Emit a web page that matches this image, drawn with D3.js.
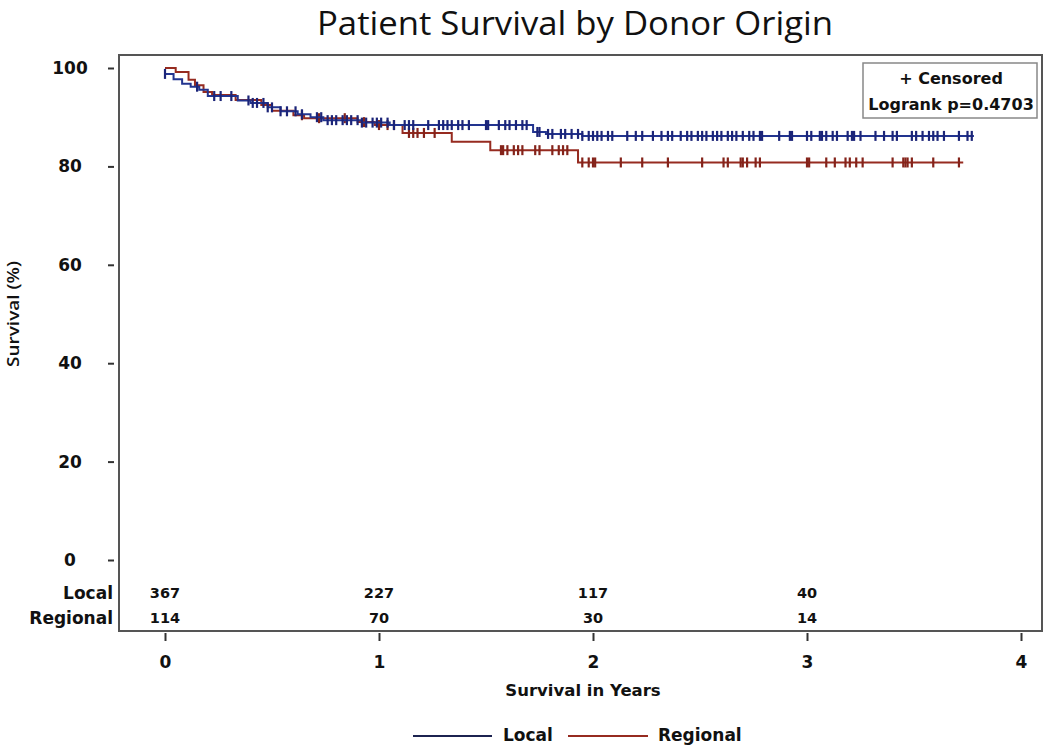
<!DOCTYPE html>
<html>
<head>
<meta charset="utf-8">
<script src="https://cdn.jsdelivr.net/npm/d3@7"></script>
<style>
  html, body { margin: 0; padding: 0; background: #fff; }
  svg { display: block; }
</style>
</head>
<body>
<svg id="chart" width="1050" height="747"></svg>
<script>
// ---------- data ----------
const groups = ["Local", "Regional"];
const localTimes = [0, 0.04, 0.08, 0.12, 0.16, 0.20, 0.34, 0.40, 0.48, 0.54, 0.62, 0.68, 0.74, 0.92, 1.05, 1.72, 1.78, 1.95, 3.78];
const localSurv  = [98.8, 97.7, 96.8, 96.2, 95.6, 94.3, 93.4, 92.9, 92.0, 91.2, 90.6, 90.0, 89.4, 88.9, 88.4, 87.0, 86.6, 86.2, 86.2];
const regionalTimes = [0, 0.05, 0.11, 0.14, 0.18, 0.22, 0.33, 0.45, 0.50, 0.60, 0.65, 0.90, 0.98, 1.11, 1.34, 1.52, 1.93, 3.73];
const regionalSurv  = [100, 99.2, 97.6, 96.5, 95.1, 94.5, 93.5, 92.5, 91.3, 90.4, 89.8, 89.0, 88.4, 86.8, 85.0, 83.3, 80.8, 80.8];
const localCensored = [0.00,0.15,0.23,0.26,0.31,0.39,0.41,0.43,0.46,0.48,0.50,0.54,0.57,0.61,0.64,0.71,0.73,0.76,0.78,0.80,0.83,0.85,0.87,0.90,0.92,0.94,0.97,0.99,1.01,1.04,1.07,1.12,1.14,1.16,1.23,1.28,1.30,1.32,1.34,1.37,1.39,1.42,1.50,1.51,1.56,1.59,1.61,1.64,1.67,1.69,1.74,1.75,1.79,1.81,1.85,1.87,1.90,1.93,1.95,1.98,2.00,2.02,2.04,2.07,2.09,2.16,2.20,2.23,2.28,2.32,2.35,2.37,2.41,2.44,2.46,2.49,2.51,2.53,2.56,2.58,2.60,2.63,2.65,2.67,2.70,2.73,2.75,2.78,2.79,2.87,2.92,2.93,3.00,3.02,3.06,3.07,3.09,3.12,3.14,3.19,3.21,3.22,3.25,3.32,3.36,3.40,3.42,3.49,3.51,3.54,3.57,3.59,3.61,3.64,3.71,3.75,3.77];
const regionalCensored = [0.64,0.72,0.84,0.93,1.00,1.04,1.07,1.14,1.16,1.18,1.21,1.26,1.57,1.58,1.60,1.63,1.65,1.67,1.73,1.75,1.81,1.84,1.86,1.88,1.95,1.98,2.00,2.01,2.13,2.23,2.35,2.51,2.61,2.63,2.69,2.70,2.72,2.76,2.78,3.00,3.01,3.09,3.13,3.18,3.20,3.23,3.26,3.40,3.45,3.46,3.47,3.49,3.59,3.71];
const riskTimes = [0, 1, 2, 3];
const localAtRisk = [367, 227, 117, 40];
const regionalAtRisk = [114, 70, 30, 14];
const xTicks = [0, 1, 2, 3, 4];
const yTicks = [0, 20, 40, 60, 80, 100];
const titleText = "Patient Survival by Donor Origin";
const xTitle = "Survival in Years";
const yTitle = "Survival (%)";
const boxLines = ["+ Censored", "Logrank p=0.4703"];

// ---------- setup ----------
const svg = d3.select("#chart");
const colors = { Local: "#22348f", Regional: "#962b20" };
const censorColors = { Local: "#1b2478", Regional: "#84231a" };
const legendColors = { Local: "#1c2350", Regional: "#962b20" };
const boldFont = "'DejaVu Sans', Verdana, sans-serif";
const lightFont = "'Open Sans', 'Noto Sans', sans-serif";

const x = d3.scaleLinear().domain([0, 4]).range([165, 1021]);
const y = d3.scaleLinear().domain([0, 100]).range([560, 68]);

const frame = { left: 119, right: 1042, top: 55, bottom: 631 };

// title
svg.append("text")
  .attr("x", 575).attr("y", 35)
  .attr("text-anchor", "middle")
  .attr("font-family", lightFont)
  .attr("font-size", 32)
  .attr("textLength", 516)
  .attr("lengthAdjust", "spacingAndGlyphs")
  .attr("fill", "#111")
  .text(titleText);

// frame
svg.append("rect")
  .attr("x", frame.left).attr("y", frame.top)
  .attr("width", frame.right - frame.left)
  .attr("height", frame.bottom - frame.top)
  .attr("fill", "none").attr("stroke", "#555").attr("stroke-width", 2);

// y axis
const yAxis = svg.append("g")
  .attr("transform", "translate(114,0)")
  .call(d3.axisLeft(y).tickValues(yTicks).tickSize(6).tickFormat(d3.format("d")));
yAxis.select(".domain").remove();
yAxis.selectAll(".tick line").attr("stroke", "#333").attr("stroke-width", 2);
yAxis.selectAll(".tick text")
  .attr("x", -44).attr("text-anchor", "middle")
  .attr("font-family", boldFont).attr("font-weight", "bold")
  .attr("font-size", 17).attr("fill", "#111");

// x axis
const xAxis = svg.append("g")
  .attr("transform", `translate(0,${frame.bottom + 2})`)
  .call(d3.axisBottom(x).tickValues(xTicks).tickSize(8).tickFormat(d3.format("d")));
xAxis.select(".domain").remove();
xAxis.selectAll(".tick line").attr("stroke", "#333").attr("stroke-width", 2);
xAxis.selectAll(".tick text")
  .attr("y", 29).attr("dy", "0.35em")
  .attr("font-family", boldFont).attr("font-weight", "bold")
  .attr("font-size", 17).attr("fill", "#111");

// axis titles
svg.append("text")
  .attr("x", 583).attr("y", 690).attr("dy", "0.35em")
  .attr("text-anchor", "middle")
  .attr("font-family", boldFont).attr("font-weight", "bold")
  .attr("font-size", 16.5).attr("fill", "#111")
  .text(xTitle);

svg.append("text")
  .attr("transform", "translate(13,314) rotate(-90)")
  .attr("text-anchor", "middle").attr("dy", "0.35em")
  .attr("font-family", lightFont).attr("font-weight", 600)
  .attr("font-size", 17)
  .attr("textLength", 106).attr("lengthAdjust", "spacingAndGlyphs")
  .attr("fill", "#111")
  .text(yTitle);

// curves
const series = [
  { name: "Regional", times: regionalTimes, surv: regionalSurv, cens: regionalCensored },
  { name: "Local", times: localTimes, surv: localSurv, cens: localCensored }
];

const line = d3.line()
  .x(d => x(d[0])).y(d => y(d[1]))
  .curve(d3.curveStepAfter);

function survAt(s, t) {
  let v = s.surv[0];
  for (let i = 0; i < s.times.length; i++) {
    if (s.times[i] <= t) v = s.surv[i];
  }
  return v;
}

series.forEach(s => {
  const pts = s.times.map((t, i) => [t, s.surv[i]]);
  svg.append("path")
    .attr("d", line(pts))
    .attr("fill", "none")
    .attr("stroke", colors[s.name])
    .attr("stroke-width", 2);
  svg.append("g").selectAll("line")
    .data(s.cens)
    .join("line")
    .attr("x1", d => x(d)).attr("x2", d => x(d))
    .attr("y1", d => y(survAt(s, d)) - 5)
    .attr("y2", d => y(survAt(s, d)) + 5)
    .attr("stroke", censorColors[s.name])
    .attr("stroke-width", 2.2);
});

// inset legend box
svg.append("rect")
  .attr("x", 863).attr("y", 63).attr("width", 174).attr("height", 55)
  .attr("fill", "#fff").attr("stroke", "#888").attr("stroke-width", 1.5);
boxLines.forEach((t, i) => {
  svg.append("text")
    .attr("x", 951).attr("y", 78 + i * 26).attr("dy", "0.35em")
    .attr("text-anchor", "middle")
    .attr("font-family", boldFont).attr("font-weight", "bold")
    .attr("font-size", 16).attr("fill", "#111")
    .text(t);
});

// at-risk table
const riskRows = [
  { name: groups[0], vals: localAtRisk, y: 593 },
  { name: groups[1], vals: regionalAtRisk, y: 618 }
];
riskRows.forEach(r => {
  svg.append("text")
    .attr("x", 113).attr("y", r.y).attr("dy", "0.35em")
    .attr("text-anchor", "end")
    .attr("font-family", boldFont).attr("font-weight", "bold")
    .attr("font-size", 17).attr("fill", "#111")
    .text(r.name);
  svg.append("g").selectAll("text")
    .data(r.vals)
    .join("text")
    .attr("x", (d, i) => x(riskTimes[i]))
    .attr("y", r.y).attr("dy", "0.35em")
    .attr("text-anchor", "middle")
    .attr("font-family", boldFont).attr("font-weight", "bold")
    .attr("font-size", 14.5).attr("fill", "#111")
    .text(d => d);
});

// bottom legend
const legendItems = [
  { name: groups[0], x1: 413, x2: 492, tx: 503 },
  { name: groups[1], x1: 568, x2: 648, tx: 658 }
];
legendItems.forEach(l => {
  svg.append("line")
    .attr("x1", l.x1).attr("x2", l.x2).attr("y1", 736).attr("y2", 736)
    .attr("stroke", legendColors[l.name]).attr("stroke-width", 2);
  svg.append("text")
    .attr("x", l.tx).attr("y", 735).attr("dy", "0.35em")
    .attr("font-family", boldFont).attr("font-weight", "bold")
    .attr("font-size", 17).attr("fill", "#111")
    .text(l.name);
});
</script>
</body>
</html>
